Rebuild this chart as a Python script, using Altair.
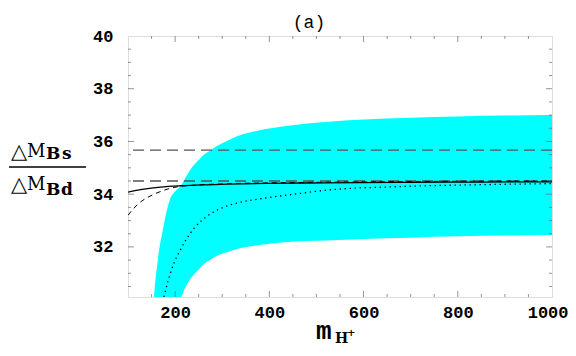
import altair as alt
import pandas as pd

# ---- data ----
BAND_X = [155, 158, 162, 167, 173, 180, 189, 200, 212, 220, 233, 245, 258, 276, 290, 310, 332, 375, 432, 520, 600, 700, 800, 900, 1000]
BAND_HI = [30.1, 30.7, 31.3, 32.0, 32.55, 33.2, 33.8, 34.1, 34.32, 34.57, 34.95, 35.2, 35.45, 35.68, 35.84, 36.02, 36.2, 36.41, 36.58, 36.74, 36.83, 36.9, 36.95, 36.98, 37.0]
BAND_LO = [30.1, 30.1, 30.1, 30.1, 30.1, 30.1, 30.1, 30.1, 30.1, 30.4, 30.8, 31.05, 31.3, 31.52, 31.67, 31.8, 31.92, 32.06, 32.18, 32.24, 32.3, 32.35, 32.4, 32.43, 32.45]

SOLID_X = [100, 130, 169, 212, 260, 311, 400, 520, 700, 850, 1000]
SOLID_Y = [34.08, 34.18, 34.27, 34.32, 34.35, 34.38, 34.41, 34.43, 34.45, 34.46, 34.47]

DASH_X = [100, 110, 120, 130, 141, 155, 169, 185, 205, 240, 300, 400, 500, 700, 1000]
DASH_Y = [33.2, 33.42, 33.6, 33.75, 33.87, 34.0, 34.1, 34.2, 34.28, 34.34, 34.39, 34.43, 34.45, 34.48, 34.5]

DOT_X = [176, 185, 197, 210, 222, 240, 269, 290, 311, 340, 375, 453, 520, 680, 850, 1000]
DOT_Y = [30.1, 30.7, 31.36, 31.85, 32.24, 32.7, 33.18, 33.4, 33.56, 33.7, 33.81, 34.0, 34.15, 34.29, 34.36, 34.4]

H_LEVELS = [35.67, 34.5]

X_LABELS = [200, 400, 600, 800, 1000]
Y_LABELS = [32, 34, 36, 38, 40]
X_MINOR = [150, 250, 300, 350, 450, 500, 550, 650, 700, 750, 850, 900, 950]
X_MAJOR = [200, 400, 600, 800]
Y_MINOR = [30.5, 31, 31.5, 32.5, 33, 33.5, 34.5, 35, 35.5, 36.5, 37, 37.5, 38.5, 39, 39.5]
Y_MAJOR = [32, 34, 36, 38]

W, H = 424, 261
XDOM = [100, 1000]
YDOM = [30.1, 40]
FRAME = "#666666"
MONO = "Liberation Mono"
SERIF = "DejaVu Serif"

xs = alt.Scale(domain=XDOM, nice=False, zero=False)
ys = alt.Scale(domain=YDOM, nice=False, zero=False)

band_df = pd.DataFrame({"x": BAND_X, "hi": BAND_HI, "lo": BAND_LO})
band = alt.Chart(band_df).mark_area(color="#00FFFF", opacity=1, clip=True, interpolate="monotone").encode(
    x=alt.X("x:Q", scale=xs, axis=alt.Axis(values=X_LABELS, format="d", ticks=False, domain=False, grid=False,
                                           labelFont=MONO, labelFontSize=17, labelFontWeight="bold",
                                           labelFlush=3, labelFlushOffset=16, labelOverlap=False,
                                           labelColor="black", labelPadding=7, title=None)),
    y=alt.Y("hi:Q", scale=ys, axis=alt.Axis(values=Y_LABELS, format="d", ticks=False, domain=False, grid=False,
                                            labelFont=MONO, labelFontSize=17, labelFontWeight="bold",
                                            labelFlush=False, labelOverlap=False,
                                            labelColor="black", labelPadding=15, title=None)),
    y2="lo:Q",
)

hl = alt.Chart(pd.DataFrame({"y": H_LEVELS})).mark_rule(
    color="#555555", strokeWidth=1.3, strokeDash=[11, 6]
).encode(y=alt.Y("y:Q", scale=ys))

solid = alt.Chart(pd.DataFrame({"x": SOLID_X, "y": SOLID_Y})).mark_line(
    color="black", strokeWidth=1.3, clip=True, interpolate="monotone"
).encode(x=alt.X("x:Q", scale=xs), y=alt.Y("y:Q", scale=ys))

dashed = alt.Chart(pd.DataFrame({"x": DASH_X, "y": DASH_Y})).mark_line(
    color="black", strokeWidth=1.0, strokeDash=[5, 4], clip=True, interpolate="monotone"
).encode(x=alt.X("x:Q", scale=xs), y=alt.Y("y:Q", scale=ys))

dotted = alt.Chart(pd.DataFrame({"x": DOT_X, "y": DOT_Y})).mark_line(
    color="black", strokeWidth=1.3, strokeDash=[1.3, 3.7], clip=True, interpolate="monotone"
).encode(x=alt.X("x:Q", scale=xs), y=alt.Y("y:Q", scale=ys))


def yticks(vals, size):
    d = pd.DataFrame({"y": vals})
    left = alt.Chart(d).mark_tick(orient="horizontal", color=FRAME, thickness=1, size=size).encode(
        y=alt.Y("y:Q", scale=ys), x=alt.value(size / 2))
    right = alt.Chart(d).mark_tick(orient="horizontal", color=FRAME, thickness=1, size=size).encode(
        y=alt.Y("y:Q", scale=ys), x=alt.value(W - size / 2))
    return [left, right]


def xticks(vals, size):
    d = pd.DataFrame({"x": vals})
    bottom = alt.Chart(d).mark_tick(orient="vertical", color=FRAME, thickness=1, size=size).encode(
        x=alt.X("x:Q", scale=xs), y=alt.value(H - size / 2))
    top = alt.Chart(d).mark_tick(orient="vertical", color=FRAME, thickness=1, size=size).encode(
        x=alt.X("x:Q", scale=xs), y=alt.value(size / 2))
    return [bottom, top]


one = alt.Data(values=[{}])


def label(txt, x, y, font, size, weight="normal", align="left", baseline="alphabetic"):
    return alt.Chart(one).mark_text(text=txt, font=font, fontSize=size, fontWeight=weight,
                                    align=align, baseline=baseline, color="black").encode(
        x=alt.value(x), y=alt.value(y))


frac_line = alt.Chart(one).mark_rule(color="black", strokeWidth=1.5).encode(
    x=alt.value(-119), x2=alt.value(-42), y=alt.value(131))

# positions relative to plot origin (page 128, 36)
texts = [
    label("(a)", 181, -13, MONO, 18, align="center", baseline="middle"),
    label("\u25b3", -117, 122, "DejaVu Sans", 21),
    label("M", -101, 121, SERIF, 18),
    label("B", -82, 123, SERIF, 17, "bold"),
    label("s", -66, 123, SERIF, 17, "bold"),
    label("\u25b3", -117, 155, "DejaVu Sans", 21),
    label("M", -101, 154, SERIF, 18),
    label("B", -82, 159, SERIF, 17, "bold"),
    label("d", -67, 159, SERIF, 17, "bold"),
    label("m", 188, 303, MONO, 26, "bold"),
    label("H", 207, 307, SERIF, 14, "bold"),
    label("+", 219, 300, SERIF, 10, "bold"),
]

layers = [band, hl, solid, dashed, dotted]
layers += yticks(Y_MINOR, 3) + yticks(Y_MAJOR, 6)
layers += xticks(X_MINOR, 3) + xticks(X_MAJOR, 6)
layers += [frac_line] + texts

chart = alt.layer(*layers).properties(
    width=W, height=H,
    autosize=alt.AutoSizeParams(type="none"),
    padding={"left": 120, "top": 28, "right": 16, "bottom": 50},
).configure_view(stroke=FRAME, strokeWidth=1.5).configure(background="white")

chart.save("out.html", embed_options={"renderer": "svg", "actions": False})
